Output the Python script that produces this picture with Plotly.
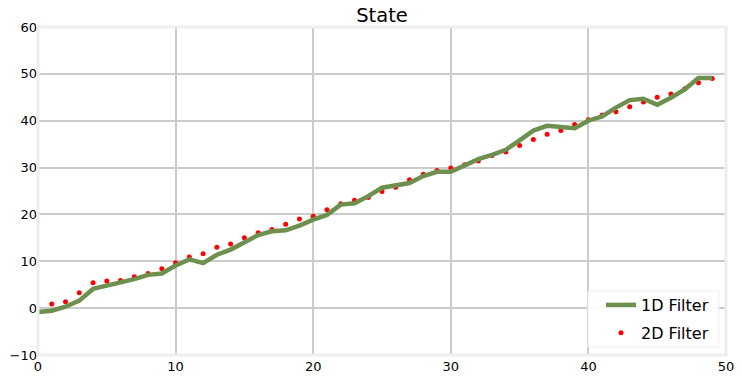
import plotly.graph_objects as go

steps = list(range(50))
filter_1d = [-0.85, -0.55, 0.3, 1.6, 4.1, 4.8, 5.4, 6.2, 7.1, 7.4,
             9.1, 10.4, 9.6, 11.4, 12.5, 14.0, 15.6, 16.4, 16.6, 17.6,
             18.9, 19.9, 22.1, 22.4, 23.9, 25.7, 26.3, 26.7, 28.2, 29.1,
             29.1, 30.5, 31.8, 32.7, 33.8, 35.8, 37.9, 38.9, 38.6, 38.4,
             40.0, 40.9, 42.8, 44.4, 44.7, 43.4, 44.9, 46.7, 49.1, 49.1]
filter_2d = [-0.8, 0.9, 1.35, 3.26, 5.4, 5.8, 5.9, 6.7, 7.4, 8.4,
             9.7, 10.9, 11.6, 13.0, 13.7, 15.0, 16.1, 16.8, 17.9, 19.0,
             19.6, 21.0, 22.3, 23.0, 23.6, 24.9, 25.8, 27.4, 28.6, 29.4,
             29.9, 30.6, 31.4, 32.6, 33.3, 34.7, 36.0, 37.1, 37.9, 39.2,
             40.2, 41.2, 41.9, 43.0, 44.0, 45.0, 45.7, 46.8, 48.1, 49.0]
x_ticks = [0, 10, 20, 30, 40, 50]
y_ticks = [-10, 0, 10, 20, 30, 40, 50, 60]
title_text = "State"
names = ["1D Filter", "2D Filter"]

FONT = "DejaVu Sans"

fig = go.Figure()
fig.add_trace(go.Scatter(
    x=steps, y=filter_2d, mode="markers", name=names[1],
    marker=dict(color="#ff0000", size=5, line=dict(width=0)),
    legendrank=2, legendgroup="b",
))
fig.add_trace(go.Scatter(
    x=steps, y=filter_1d, mode="lines", name=names[0],
    line=dict(color="#6d904f", width=4.5),
    legendrank=1, legendgroup="a",
))

# plot area in px: left 38, right 726, top 27, bottom 355
PW, PH = 688.0, 328.0
def px_x(p):
    return (p - 38) / PW
def px_y(p):
    return (355 - p) / PH

fig.update_layout(
    width=742, height=381,
    margin=dict(l=38, r=16, t=27, b=26, pad=0),
    paper_bgcolor="white", plot_bgcolor="white",
    font=dict(family=FONT, size=13, color="#000000"),
    title=dict(text=title_text, x=0.5, xref="paper", xanchor="center",
               y=1, yref="container", yanchor="top", pad=dict(t=8),
               font=dict(family=FONT, size=19.5, color="#000000")),
    showlegend=True,
    legend=dict(
        x=px_x(601), y=px_y(350), xanchor="left", yanchor="bottom",
        bgcolor="rgba(0,0,0,0)", borderwidth=0,
        font=dict(family=FONT, size=16, color="#000000"),
        traceorder="grouped", tracegroupgap=4,
    ),
    xaxis=dict(
        range=[0, 50], tickvals=x_ticks, ticktext=[str(v) for v in x_ticks],
        showgrid=True, gridcolor="#cbcbcb", gridwidth=2,
        zeroline=False, showline=False, ticks="", automargin=False,
        ticklabelstandoff=2,
        tickfont=dict(family=FONT, size=13, color="#000000"),
    ),
    yaxis=dict(
        range=[-10, 60], tickvals=y_ticks,
        showgrid=True, gridcolor="#cbcbcb", gridwidth=2,
        zeroline=False, showline=False, ticks="", automargin=False,
        ticklabelstandoff=0,
        tickfont=dict(family=FONT, size=13, color="#000000"),
    ),
    shapes=[
        dict(type="rect", xref="paper", yref="paper", x0=0, x1=1, y0=0, y1=1,
             line=dict(color="#eeeeee", width=3), layer="above"),
        dict(type="rect", xref="paper", yref="paper",
             x0=px_x(588), x1=px_x(719), y0=px_y(347), y1=px_y(291),
             line=dict(color="#eeeeee", width=1),
             fillcolor="rgba(255,255,255,0.9)", layer="above"),
    ],
)

fig.write_html("out.html")
